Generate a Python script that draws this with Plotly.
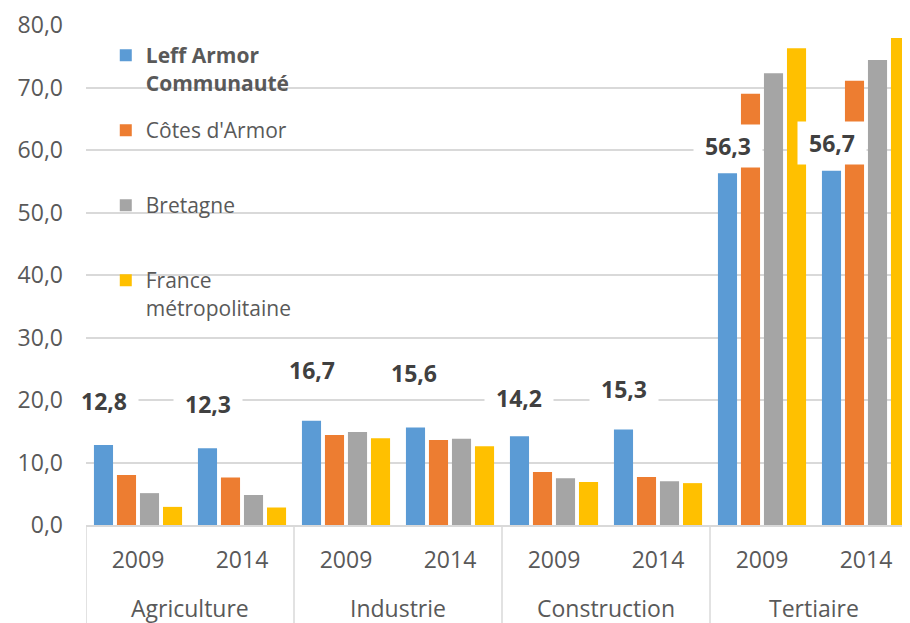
import plotly.graph_objects as go

# ---- data ----
categories = ["Agriculture", "Industrie", "Construction", "Tertiaire"]
years = ["2009", "2014"]
series_names = ["<b>Leff Armor</b><br><b>Communauté</b>", "Côtes d'Armor", "Bretagne", "France<br>métropolitaine"]
leff = [12.8, 12.3, 16.7, 15.6, 14.2, 15.3, 56.3, 56.7]
cotes = [8.0, 7.6, 14.4, 13.6, 8.5, 7.7, 69.0, 71.1]
bretagne = [5.1, 4.8, 14.9, 13.8, 7.5, 7.0, 72.3, 74.4]
france = [2.9, 2.8, 13.9, 12.6, 6.9, 6.7, 76.3, 77.9]
y_ticks = [0, 10, 20, 30, 40, 50, 60, 70, 80]

# ---- styles / positions ----
colors = ["#5B9BD5", "#ED7D31", "#A5A5A5", "#FFC000"]
label_dx = [0, 0, 0, -2, -1, 0, 0, 0]          # px shift of data labels
label_dy = [44, 44, 51, 55, 38, 40, 27, 28]     # px above bar top
legend_pos = [(0.024, 0.980), (0.024, 0.830), (0.024, 0.680), (0.024, 0.530)]
FONT = "Open Sans"
GREY = "#595959"
GRID = "#d9d9d9"
NB = "\u00a0"

slots = list(range(len(categories) * len(years)))
tick_text = [y for _ in categories for y in years]

fig = go.Figure()
all_series = [leff, cotes, bretagne, france]
legend_ids = ["legend", "legend2", "legend3", "legend4"]
for name, vals, col, lid in zip(series_names, all_series, colors, legend_ids):
    fig.add_trace(go.Bar(x=slots, y=vals, name=name, marker=dict(color=col, line=dict(width=0)),
                         legend=lid, showlegend=True))

# data labels for first series
bar_offset_px = -1.5 * 23  # blue bar sits left in group
for i, v in enumerate(leff):
    fig.add_annotation(x=slots[i], y=v, xref="x", yref="y",
                       text=NB + "<b>" + f"{v:.1f}".replace(".", ",") + "</b>" + NB,
                       showarrow=False, xshift=bar_offset_px + label_dx[i], yshift=label_dy[i],
                       font=dict(family=FONT, size=23, color="#404040"),
                       bgcolor="white", borderpad=5, xanchor="center", yanchor="middle")

# category labels
for gi, cat in enumerate(categories):
    center = sum(slots[gi * len(years):(gi + 1) * len(years)]) / len(years)
    fig.add_annotation(x=center, y=-0.165, xref="x", yref="paper", text=cat, showarrow=False,
                       font=dict(family=FONT, size=23, color=GREY), yanchor="middle")

# dividers
for gi in range(len(categories) + 1):
    xb = gi * len(years) - 0.5
    fig.add_shape(type="line", xref="x", yref="paper", x0=xb, x1=xb, y0=0, y1=-0.25,
                  line=dict(color=GRID, width=1.5))

layout_legends = {}
for lid, (lx, ly) in zip(legend_ids, legend_pos):
    layout_legends[lid] = dict(x=lx, y=ly, xanchor="left", yanchor="top", bgcolor="rgba(0,0,0,0)",
                               font=dict(family=FONT, size=21, color=GREY), valign="top")

fig.update_layout(
    width=902, height=615,
    margin=dict(l=78, r=0, t=17, b=98),
    paper_bgcolor="white", plot_bgcolor="white",
    separators=", ",
    showlegend=True,
    barmode="group", bargap=0.115, bargroupgap=0.17,
    font=dict(family=FONT, color=GREY),
    **layout_legends,
)
fig.update_xaxes(range=[-0.5, 7.423], tickvals=slots, ticktext=tick_text, ticks="",
                 tickfont=dict(family=FONT, size=23, color=GREY), ticklabelstandoff=14,
                 showgrid=False, zeroline=False, showline=True, linecolor=GRID, linewidth=1.5)
fig.update_yaxes(range=[0, 80], tickvals=y_ticks, tickformat=".1f", ticks="",
                 tickfont=dict(family=FONT, size=23, color=GREY), ticklabelstandoff=22,
                 showgrid=True, gridcolor=GRID, gridwidth=1.5, zeroline=False)

fig.write_html("out.html")
